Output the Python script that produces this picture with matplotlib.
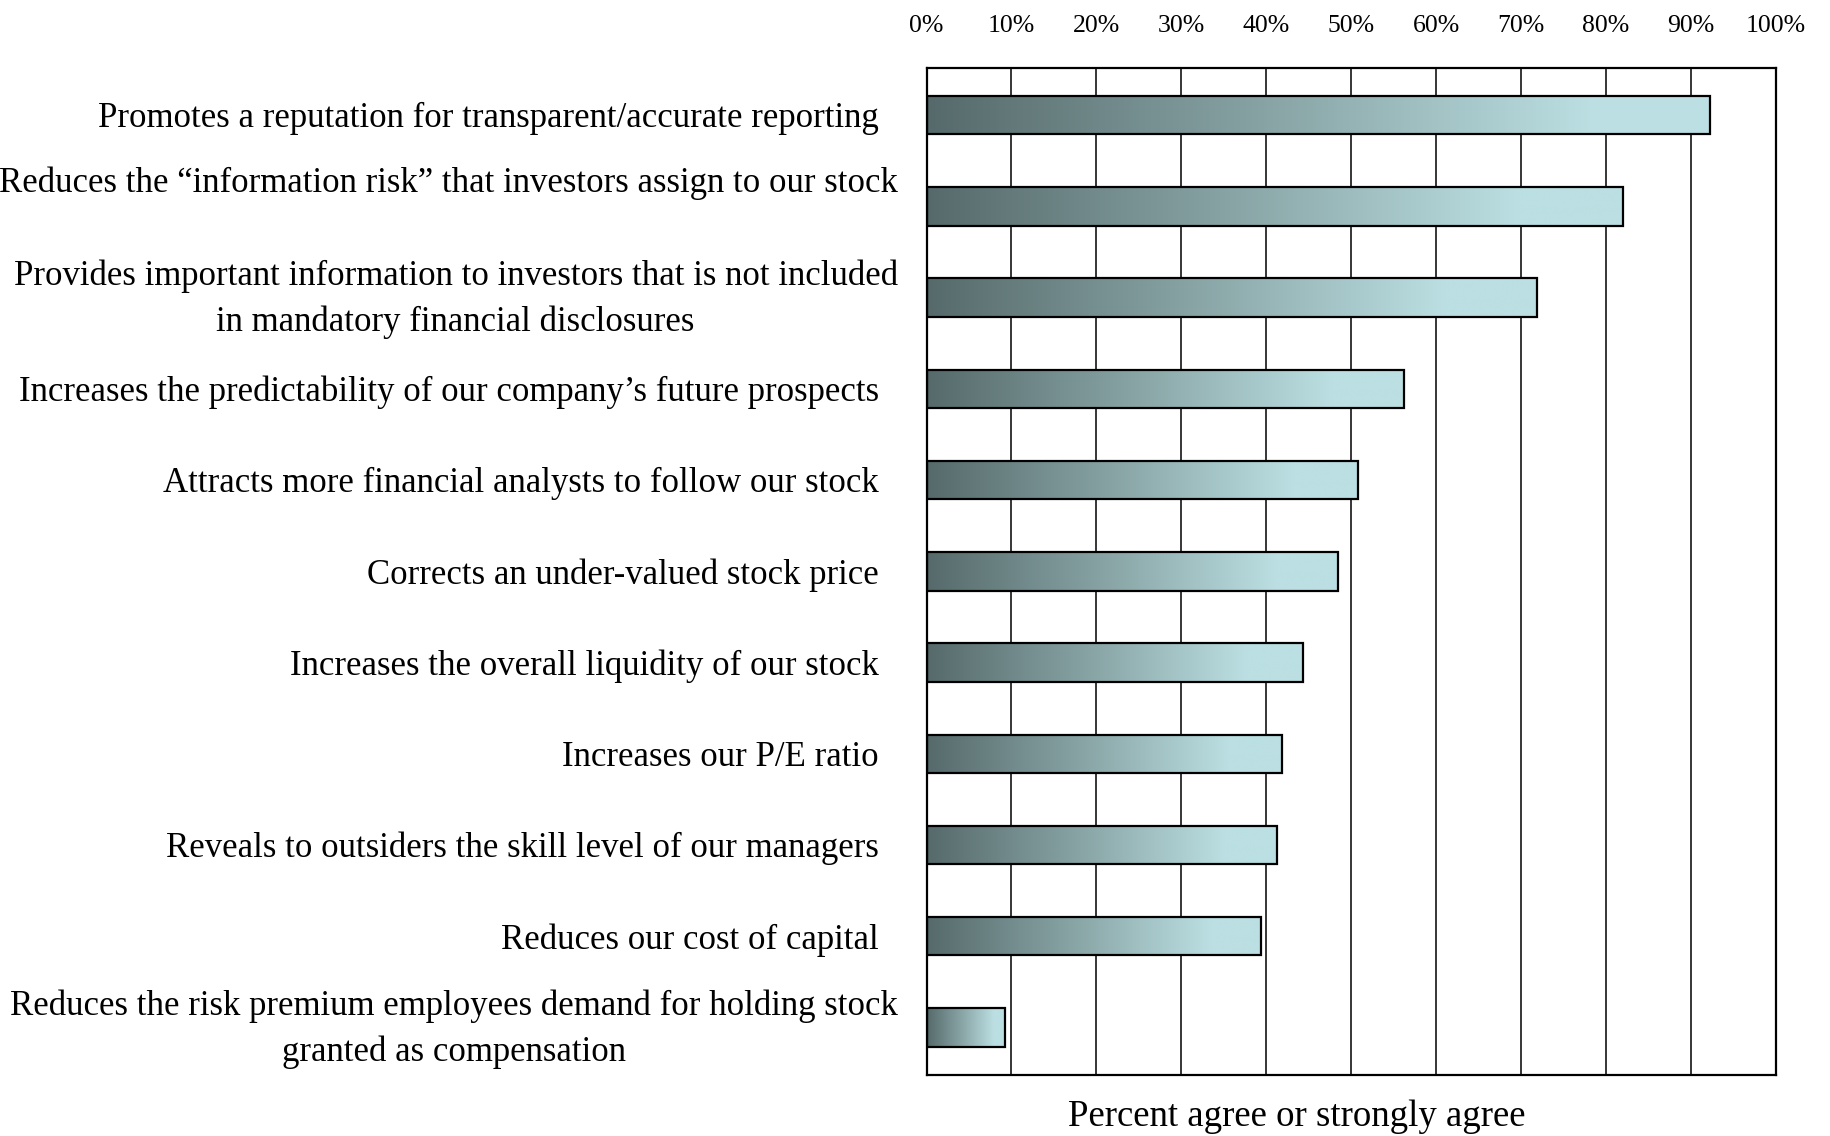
import matplotlib
matplotlib.use("Agg")
import matplotlib.pyplot as plt
import numpy as np
from matplotlib.colors import LinearSegmentedColormap
from matplotlib.transforms import blended_transform_factory

plt.rcParams['font.family'] = ['Liberation Serif', 'DejaVu Serif']

categories = [
    "Promotes a reputation for transparent/accurate reporting",
    "Reduces the \u201cinformation risk\u201d that investors assign to our stock",
    "Provides important information to investors that is not included\nin mandatory financial disclosures",
    "Increases the predictability of our company\u2019s future prospects",
    "Attracts more financial analysts to follow our stock",
    "Corrects an under-valued stock price",
    "Increases the overall liquidity of our stock",
    "Increases our P/E ratio",
    "Reveals to outsiders the skill level of our managers",
    "Reduces our cost of capital",
    "Reduces the risk premium employees demand for holding stock\ngranted as compensation",
]
percent_agree = [92.2, 82.0, 71.9, 56.2, 50.8, 48.4, 44.3, 41.9, 41.3, 39.4, 9.2]
tick_values = [0, 10, 20, 30, 40, 50, 60, 70, 80, 90, 100]
tick_labels = [f"{v}%" for v in tick_values]

fig = plt.figure(figsize=(18.3, 11.36), dpi=100)
ax = fig.add_axes([0.5063, 0.0537, 0.4642, 0.8867])

grad = LinearSegmentedColormap.from_list(
    "bar", [(0.0, "#566a6b"), (0.45, "#8aa6a7"), (0.85, "#bbdfe2"), (1.0, "#bbdfe2")])
ramp = np.linspace(0, 1, 256).reshape(1, -1)

ypos = np.arange(len(categories))
h = 0.42
for y, v in zip(ypos, percent_agree):
    ax.imshow(ramp, cmap=grad, extent=[0, v, y + h / 2, y - h / 2],
              aspect='auto', interpolation='bilinear', zorder=2)
ax.barh(ypos, percent_agree, height=h, facecolor='none',
        edgecolor='black', linewidth=1.6, zorder=3)

for x in tick_values[1:-1]:
    ax.axvline(x, color='black', linewidth=1.1, zorder=1)

ax.set_xlim(0, 100)
ax.set_ylim(len(categories) - 0.48, -0.52)
ax.set_yticks([])
ax.set_xticks(tick_values)
ax.set_xticklabels(tick_labels, fontsize=18.5)
ax.tick_params(axis='x', top=True, labeltop=True, bottom=False,
               labelbottom=False, length=0, pad=22)
for s in ax.spines.values():
    s.set_linewidth(1.6)

# category labels sit left of the axes
trans = blended_transform_factory(ax.transAxes, ax.transData)
label_shift = [0.04, -0.25, 0.02, 0.04, 0.04, 0.04, 0.04, 0.04, 0.04, 0.04, 0.02]
for y, lab, dy in zip(ypos, categories, label_shift):
    multi = "\n" in lab
    xr = -0.034 if multi else -0.056
    if lab.startswith("Reduces the \u201c"):
        xr = -0.034
    ax.text(xr, y + dy, lab, transform=trans, ha='right', va='center',
            multialignment='center', fontsize=25, linespacing=1.5)

ax.text(0.4356, -0.041, "Percent agree or strongly agree", transform=ax.transAxes,
        ha='center', va='center', fontsize=26.5)

fig.savefig("out.png", dpi=100)
